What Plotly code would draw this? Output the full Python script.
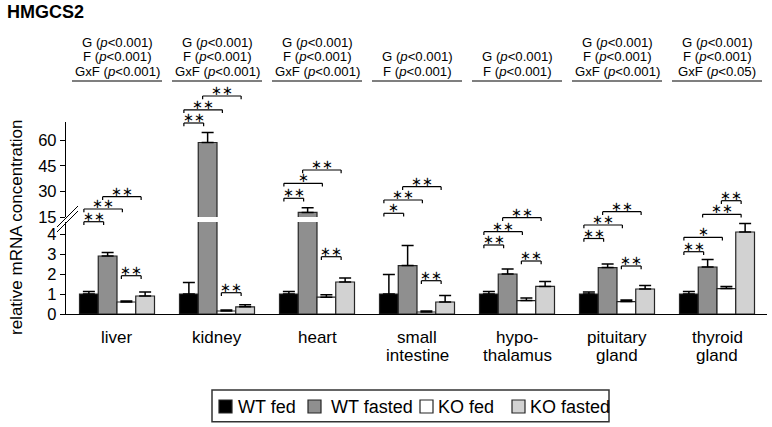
import plotly.graph_objects as go

# ---------------- data ----------------
categories = ["liver", "kidney", "heart", "small intestine", "hypothalamus", "pituitary gland", "thyroid gland"]
category_label_lines = [["liver"], ["kidney"], ["heart"], ["small", "intestine"],
                        ["hypo-", "thalamus"], ["pituitary", "gland"], ["thyroid", "gland"]]
series_names = ["WT fed", "WT fasted", "KO fed", "KO fasted"]

wt_fed = [1.0, 1.0, 1.0, 1.0, 1.0, 1.0, 1.0]
wt_fed_err = [0.13, 0.58, 0.13, 0.97, 0.13, 0.10, 0.12]
wt_fasted = [2.9, 58.6, 17.7, 2.42, 2.0, 2.32, 2.35]
wt_fasted_err = [0.17, 5.9, 2.7, 1.0, 0.25, 0.18, 0.38]
ko_fed = [0.6, 0.15, 0.84, 0.1, 0.67, 0.62, 1.27]
ko_fed_err = [0.05, 0.05, 0.12, 0.05, 0.13, 0.08, 0.10]
ko_fasted = [0.9, 0.36, 1.6, 0.6, 1.38, 1.25, 4.1]
ko_fasted_err = [0.2, 0.1, 0.2, 0.33, 0.25, 0.18, 0.43]

# two-way ANOVA results per tissue (factor, p threshold)
anova = [
    [("G", "0.001"), ("F", "0.001"), ("GxF", "0.001")],
    [("G", "0.001"), ("F", "0.001"), ("GxF", "0.001")],
    [("G", "0.001"), ("F", "0.001"), ("GxF", "0.001")],
    [("G", "0.001"), ("F", "0.001")],
    [("G", "0.001"), ("F", "0.001")],
    [("G", "0.001"), ("F", "0.001"), ("GxF", "0.001")],
    [("G", "0.001"), ("F", "0.001"), ("GxF", "0.05")],
]

# pairwise comparisons per tissue: (bar a, bar b, stars)
comparisons = [
    [(0, 1, "**"), (0, 2, "**"), (1, 3, "**"), (2, 3, "**")],
    [(0, 1, "**"), (0, 2, "**"), (1, 3, "**"), (2, 3, "**")],
    [(0, 1, "**"), (0, 2, "*"), (1, 3, "**"), (2, 3, "**")],
    [(0, 1, "*"), (0, 2, "**"), (1, 3, "**"), (2, 3, "**")],
    [(0, 1, "**"), (0, 2, "**"), (1, 3, "**"), (2, 3, "**")],
    [(0, 1, "**"), (0, 2, "**"), (1, 3, "**"), (2, 3, "**")],
    [(0, 1, "**"), (0, 2, "*"), (1, 3, "**"), (2, 3, "**")],
]

lower_ticks = [0, 1, 2, 3, 4]
upper_ticks = [15, 30, 45, 60]

# ---------------- layout / style ----------------
W, H = 772, 427
PL, PR, PT, PB = 66, 767, 122, 314          # plot area
LOWER_TOP_PX, UPPER_BOTTOM_PX = 222, 217    # axis break
LOWER_RANGE = [0, 4.6]
UPPER_RANGE = [15, 70.6]
X_RANGE = [-0.51, 6.5]

# bracket heights (pixel rows) for each comparison, same order as `comparisons`
bracket_rows = [
    [221.7, 209.0, 196.7, 275.7],
    [123.0, 109.8, 96.0, 292.7],
    [198.3, 183.3, 170.0, 256.7],
    [213.3, 200.0, 186.7, 280.7],
    [245.0, 231.7, 217.7, 261.0],
    [238.5, 225.0, 211.7, 266.0],
    [251.7, 237.3, 214.3, 200.7],
]

fills = ["#000000", "#8f8f8f", "#ffffff", "#d2d2d2"]
outline = "#262626"
FONT = "Liberation Sans, Arial, sans-serif"
STAR_FONT = "DejaVu Sans"
BARGAP = 0.25
BAR_W = (1 - BARGAP) / 4


def py(p):
    return (PB - p) / (PB - PT)


def pxp(p):
    return (p - PL) / (PR - PL)


x_pos = list(range(len(categories)))
values = [wt_fed, wt_fasted, ko_fed, ko_fasted]
errors = [wt_fed_err, wt_fasted_err, ko_fed_err, ko_fasted_err]

fig = go.Figure()
for yax in ["y", "y2"]:
    for k in range(4):
        fig.add_trace(go.Bar(
            x=x_pos, y=values[k], name=series_names[k], yaxis=yax, xaxis="x",
            marker=dict(color=fills[k], line=dict(color=outline, width=1.2)),
            error_y=dict(type="data", array=errors[k], arrayminus=[0] * len(categories),
                         symmetric=False, color="#000000", thickness=1.5, width=6),
            showlegend=False, hoverinfo="skip",
        ))

shapes = []
annotations = []

# significance brackets
for i, comps in enumerate(comparisons):
    for (a, b, lab), row in zip(comps, bracket_rows[i]):
        xa = i + (-1.5 + a) * BAR_W - 0.05
        xb = i + (-1.5 + b) * BAR_W - 0.04
        y0 = py(row)
        yt = py(row + 3.3)
        shapes.append(dict(type="line", xref="x", yref="paper", x0=xa, x1=xb, y0=y0, y1=y0,
                           line=dict(color="#000", width=1.2)))
        for xx in (xa, xb):
            shapes.append(dict(type="line", xref="x", yref="paper", x0=xx, x1=xx, y0=y0, y1=yt,
                               line=dict(color="#000", width=1.2)))
        annotations.append(dict(x=(xa + xb) / 2, y=y0, xref="x", yref="paper",
                                text=lab.replace("*", "\u2217"),
                                showarrow=False, xanchor="center", yanchor="bottom", yshift=-3,
                                borderpad=0,
                                font=dict(family=STAR_FONT, size=13, color="#000")))

# ANOVA header blocks
HEADER_ROWS = [42.5, 57.0, 71.5]
for i, rows in enumerate(anova):
    n = len(rows)
    for j, (fac, p) in enumerate(rows):
        rowpx = HEADER_ROWS[3 - n + j]
        annotations.append(dict(x=i, y=py(rowpx), xref="x", yref="paper",
                                text=f"{fac} (<i>p</i>&lt;{p})", showarrow=False,
                                xanchor="center", yanchor="middle", borderpad=0,
                                font=dict(family=FONT, size=13.2, color="#000")))
    shapes.append(dict(type="line", xref="x", yref="paper", x0=i - 0.45, x1=i + 0.45,
                       y0=py(81), y1=py(81), line=dict(color="#000", width=1.2)))

# category labels
for i, lines in enumerate(category_label_lines):
    for j, t in enumerate(lines):
        annotations.append(dict(x=i, y=py(337 + 18 * j), xref="x", yref="paper", text=t,
                                showarrow=False, xanchor="center", yanchor="middle",
                                borderpad=0,
                                font=dict(family=FONT, size=17, color="#000")))

# axis break marks
for (x0, y0, x1, y1) in [(57, 227, 78, 206), (57, 232, 78, 211)]:
    shapes.append(dict(type="line", xref="paper", yref="paper", x0=pxp(x0), y0=py(y0),
                       x1=pxp(x1), y1=py(y1), line=dict(color="#000", width=1)))

# y-axis title
annotations.append(dict(x=pxp(16), y=py(228), xref="paper", yref="paper",
                        text="relative mRNA concentration", textangle=-90, showarrow=False,
                        xanchor="center", yanchor="middle",
                        font=dict(family=FONT, size=17, color="#000")))

# title
annotations.append(dict(x=pxp(5), y=py(12), xref="paper", yref="paper", text="<b>HMGCS2</b>",
                        showarrow=False, xanchor="left", yanchor="middle",
                        font=dict(family=FONT, size=18, color="#000")))

# custom legend
shapes.append(dict(type="rect", xref="paper", yref="paper", x0=pxp(212), x1=pxp(609),
                   y0=py(390), y1=py(421.7), line=dict(color="#333", width=1.5),
                   fillcolor="rgba(0,0,0,0)"))
legend_sq_x = [219, 308, 420, 512]
legend_txt_x = [236, 329, 436, 528]
for k in range(4):
    shapes.append(dict(type="rect", xref="paper", yref="paper",
                       x0=pxp(legend_sq_x[k]), x1=pxp(legend_sq_x[k] + 13),
                       y0=py(400), y1=py(413), fillcolor=fills[k],
                       line=dict(color=outline, width=1.2)))
    annotations.append(dict(x=pxp(legend_txt_x[k]), y=py(406.5), xref="paper", yref="paper",
                            text=series_names[k], showarrow=False, xanchor="left",
                            yanchor="middle", font=dict(family=FONT, size=18, color="#000")))

axis_common = dict(showline=True, linecolor="#000", linewidth=1.3, ticks="outside",
                   ticklen=5, tickwidth=1.3, tickcolor="#000", showgrid=False,
                   zeroline=False, tickfont=dict(family=FONT, size=16.5, color="#000"))

fig.update_layout(
    width=W, height=H,
    margin=dict(l=PL, r=W - PR, t=PT, b=H - PB, pad=0),
    paper_bgcolor="white", plot_bgcolor="white",
    barmode="group", bargap=BARGAP, bargroupgap=0,
    showlegend=False,
    xaxis=dict(range=X_RANGE, showline=True, linecolor="#000", linewidth=1.3,
               showticklabels=False, ticks="", showgrid=False, zeroline=False,
               anchor="y", fixedrange=True),
    yaxis=dict(domain=[0, (PB - LOWER_TOP_PX) / (PB - PT)], range=LOWER_RANGE,
               tickvals=lower_ticks, anchor="x", fixedrange=True, **axis_common),
    yaxis2=dict(domain=[(PB - UPPER_BOTTOM_PX) / (PB - PT), 1], range=UPPER_RANGE,
                tickvals=upper_ticks, anchor="x", fixedrange=True, **axis_common),
    shapes=shapes, annotations=annotations,
    font=dict(family=FONT, color="#000"),
)

# the page's default 8px body margin would push the figure off the window
fig.write_html("out.html", config={"displayModeBar": False},
               post_script="document.body.style.margin='0px';")
